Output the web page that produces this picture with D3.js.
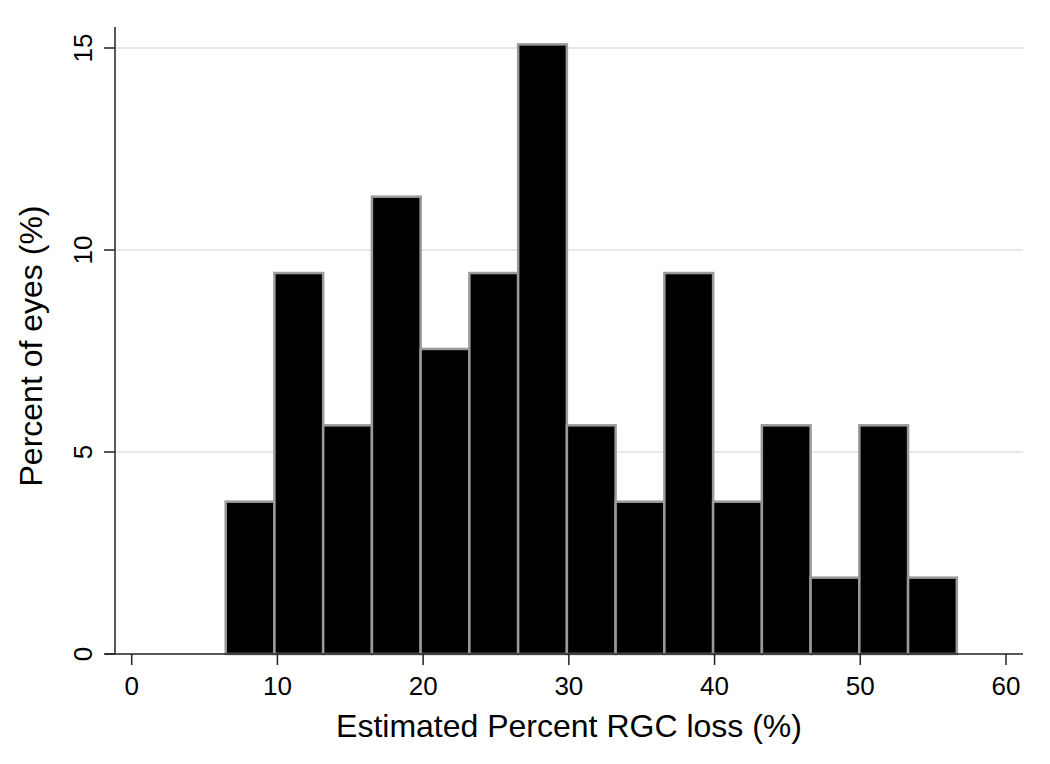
<!DOCTYPE html>
<html>
<head>
<meta charset="UTF-8">
<script src="https://d3js.org/d3.v7.min.js"></script>
<style>
  body { margin: 0; background: #fff; }
  text { font-family: "Liberation Sans", Arial, sans-serif; fill: #000; }
</style>
</head>
<body>
<div id="chart"></div>
<script>
// histogram bins (percent RGC loss) and heights (percent of eyes)
const binStart = 6.45;
const binWidth = 3.345;
const percents = [3.77, 9.43, 5.66, 11.32, 7.55, 9.43, 15.09, 5.66, 3.77, 9.43, 3.77, 5.66, 1.89, 5.66, 1.89];
const xTicks = [0, 10, 20, 30, 40, 50, 60];
const yTicks = [0, 5, 10, 15];

const W = 1050, H = 764;
const svg = d3.select("#chart").append("svg").attr("width", W).attr("height", H);

const x = d3.scaleLinear().domain([0, 60]).range([131.7, 1006]);
const y = d3.scaleLinear().domain([0, 15]).range([654, 48]);

const bins = percents.map((p, i) => ({ x0: binStart + i * binWidth, x1: binStart + (i + 1) * binWidth, v: p }));

// gridlines
svg.append("g").selectAll("line").data(yTicks.filter(d => d > 0)).join("line")
  .attr("x1", 116).attr("x2", 1023)
  .attr("y1", d => y(d)).attr("y2", d => y(d))
  .attr("stroke", "#e8e8e8").attr("stroke-width", 2);

// bars
svg.append("g").selectAll("rect").data(bins).join("rect")
  .attr("x", d => x(d.x0))
  .attr("y", d => y(d.v))
  .attr("width", d => x(d.x1) - x(d.x0))
  .attr("height", d => y(0) - y(d.v))
  .attr("fill", "#000")
  .attr("stroke", "#9a9a9a")
  .attr("stroke-width", 2.5);

// x axis
const xAxis = svg.append("g").attr("transform", `translate(0,${y(0)})`);
xAxis.append("line").attr("x1", 105).attr("x2", 1023).attr("stroke", "#222").attr("stroke-width", 1.5);
xAxis.call(g => g.selectAll(".t").data(xTicks).join("g").attr("class", "t")
  .attr("transform", d => `translate(${x(d)},0)`)
  .call(t => t.append("line").attr("y2", 11).attr("stroke", "#222").attr("stroke-width", 1.5))
  .call(t => t.append("text").attr("y", 41).attr("text-anchor", "middle")
    .style("font-size", "26px").text(d => d)));

// y axis
const yAxis = svg.append("g").attr("transform", "translate(115,0)");
yAxis.append("line").attr("y1", 27).attr("y2", 654).attr("stroke", "#222").attr("stroke-width", 1.5);
yAxis.call(g => g.selectAll(".t").data(yTicks).join("g").attr("class", "t")
  .attr("transform", d => `translate(0,${y(d)})`)
  .call(t => t.append("line").attr("x2", -11).attr("stroke", "#222").attr("stroke-width", 1.5))
  .call(t => t.append("text").attr("transform", "translate(-23,0) rotate(-90)")
    .attr("text-anchor", "middle").style("font-size", "26px").text(d => d)));

// axis titles
svg.append("text").attr("x", 569).attr("y", 737).attr("text-anchor", "middle")
  .style("font-size", "32px").text("Estimated Percent RGC loss (%)");
svg.append("text").attr("transform", "translate(42,346) rotate(-90)").attr("text-anchor", "middle")
  .style("font-size", "32px").text("Percent of eyes (%)");
</script>
</body>
</html>
